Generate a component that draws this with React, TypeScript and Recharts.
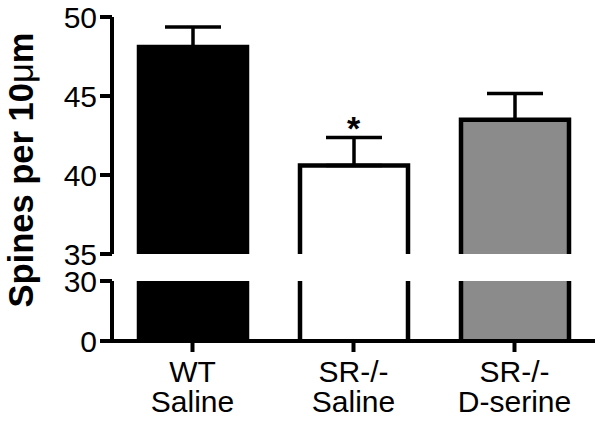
import { ComposedChart, Bar, Line, XAxis, YAxis, ErrorBar, Cell } from "recharts";

const GROUPS = ["WT\nSaline", "SR-/-\nSaline", "SR-/-\nD-serine"];
const MEANS = [48.1, 40.6, 43.5];
const SEMS = [1.27, 1.77, 1.66];
const SIGNIFICANT = [false, true, false];

const TOP_TICKS = [35, 40, 45, 50];
const BOTTOM_TICKS = [0, 30];

const COLORS = ["#000000", "#ffffff", "#8b8b8b"];
const FONT = "'Liberation Sans', Arial, sans-serif";

const data = GROUPS.map((name, i) => ({
  name,
  mean: MEANS[i],
  err: [0, SEMS[i]],
  sigTop: SIGNIFICANT[i] ? MEANS[i] + SEMS[i] : null,
}));

const axisStyle = { stroke: "#000", strokeWidth: 4 };
const tickFont = { fontSize: 30, fill: "#000", fontFamily: FONT };

function TopBar(props: any) {
  const { x, y, width, height, fill } = props;
  const bottom = y + height;
  return (
    <g>
      <rect x={x} y={y} width={width} height={height} fill={fill} />
      <path
        d={`M${x},${bottom} L${x},${y} L${x + width},${y} L${x + width},${bottom}`}
        fill="none"
        stroke="#000"
        strokeWidth={4.5}
      />
    </g>
  );
}

function BottomBar(props: any) {
  const { x, y, width, height, fill, background } = props;
  const bottom = y + height;
  const top = background ? Math.max(y, background.y) : y;
  return (
    <g>
      <rect x={x} y={top} width={width} height={bottom - top} fill={fill} />
      <path
        d={`M${x},${top} L${x},${bottom} M${x + width},${top} L${x + width},${bottom}`}
        fill="none"
        stroke="#000"
        strokeWidth={4.5}
      />
    </g>
  );
}

function Asterisk(props: any) {
  const { cx, cy, payload } = props;
  if (cy == null || payload?.sigTop == null) return null;
  return (
    <text
      x={cx}
      y={cy + 2}
      textAnchor="middle"
      fontSize={34}
      fontWeight="bold"
      fontFamily={FONT}
      fill="#000"
    >
      *
    </text>
  );
}

function GroupTick(props: any) {
  const { x, y, payload } = props;
  const lines = String(payload.value).split("\n");
  return (
    <text x={x} y={y} textAnchor="middle" fontSize={30} fontFamily={FONT} fill="#000">
      {lines.map((l, i) => (
        <tspan key={i} x={x} dy={i === 0 ? 28 : 30}>
          {l}
        </tspan>
      ))}
    </text>
  );
}

export default function App() {
  return (
    <div style={{ position: "absolute", left: 0, top: 0, width: 602, height: 423, background: "#fff" }}>
      <div style={{ position: "absolute", left: 0, top: 0 }}>
        <ComposedChart
          width={602}
          height={280}
          data={data}
          margin={{ top: 17, right: 7, bottom: 26, left: 0 }}
        >
          <XAxis dataKey="name" hide />
          <YAxis
            type="number"
            domain={[35, 50]}
            ticks={TOP_TICKS}
            interval={0}
            width={112}
            tickSize={12}
            tickMargin={3}
            axisLine={axisStyle}
            tickLine={axisStyle}
            tick={tickFont}
          />
          <Bar dataKey="mean" barSize={108} shape={<TopBar />} isAnimationActive={false}>
            {data.map((d, i) => (
              <Cell key={d.name} fill={COLORS[i]} />
            ))}
            <ErrorBar dataKey="err" width={28} stroke="#000" strokeWidth={3.5} direction="y" />
          </Bar>
          <Line
            dataKey="sigTop"
            stroke="none"
            dot={<Asterisk />}
            activeDot={false}
            isAnimationActive={false}
          />
        </ComposedChart>
      </div>
      <div style={{ position: "absolute", left: 0, top: 265 }}>
        <ComposedChart
          width={602}
          height={158}
          data={data}
          margin={{ top: 16, right: 7, bottom: 0, left: 0 }}
        >
          <XAxis
            dataKey="name"
            height={82}
            tickSize={11}
            tickMargin={2}
            axisLine={axisStyle}
            tickLine={axisStyle}
            tick={<GroupTick />}
            interval={0}
          />
          <YAxis
            type="number"
            domain={[0, 30]}
            ticks={BOTTOM_TICKS}
            interval={0}
            allowDataOverflow
            width={112}
            tickSize={12}
            tickMargin={3}
            axisLine={axisStyle}
            tickLine={axisStyle}
            tick={tickFont}
          />
          <Bar dataKey="mean" barSize={108} shape={<BottomBar />} isAnimationActive={false}>
            {data.map((d, i) => (
              <Cell key={d.name} fill={COLORS[i]} />
            ))}
          </Bar>
        </ComposedChart>
      </div>
      <svg
        width={602}
        height={423}
        style={{ position: "absolute", left: 0, top: 0, pointerEvents: "none" }}
      >
        <text
          transform="translate(33,170) rotate(-90)"
          textAnchor="middle"
          fontSize={34.5}
          fontWeight="bold"
          fontFamily={FONT}
          fill="#000"
        >
          Spines per 10<tspan fontWeight="normal">μ</tspan>m
        </text>
      </svg>
    </div>
  );
}
